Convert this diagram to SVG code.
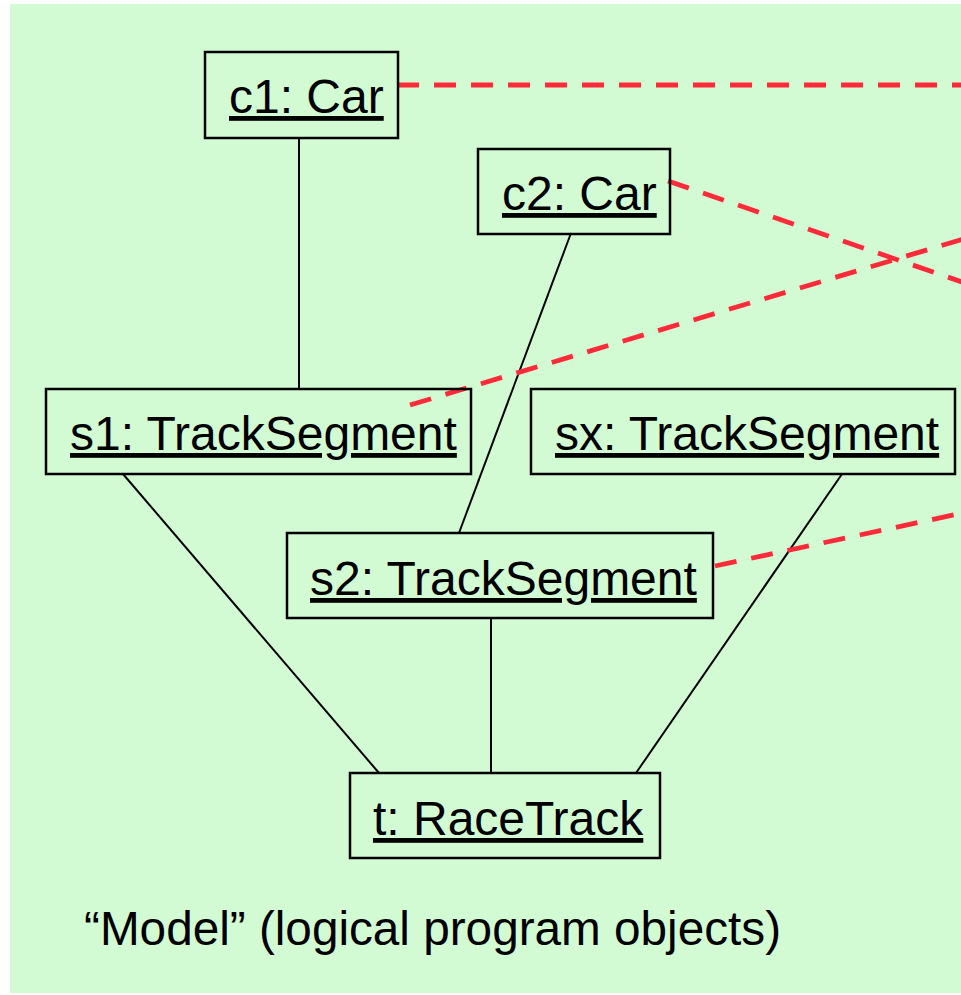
<svg xmlns="http://www.w3.org/2000/svg" width="961" height="995" viewBox="0 0 961 995">
<style>
.box{fill:none;stroke:#000;stroke-width:2.5}
.lbl{font-family:"Liberation Sans",Arial,Helvetica,sans-serif;font-size:48px;fill:#000;text-decoration:underline;text-decoration-thickness:2px}
.cap{font-family:"Liberation Sans",Arial,Helvetica,sans-serif;font-size:47.7px;fill:#000}
.assoc{stroke:#000;stroke-width:2;fill:none}
.map{stroke:#fd2b3a;stroke-width:4.8;stroke-dasharray:22 15;fill:none}
</style>
<rect x="0" y="0" width="961" height="995" fill="#ffffff"/>
<rect x="10" y="4" width="951" height="989" fill="#d3fbd3"/>
<g id="connectors">
<line class="assoc" x1="299" y1="138" x2="299" y2="389"/>
<line class="assoc" x1="571" y1="233" x2="459" y2="533"/>
<line class="assoc" x1="123" y1="474" x2="379" y2="773"/>
<line class="assoc" x1="491" y1="618" x2="491" y2="773"/>
<line class="assoc" x1="842" y1="474" x2="636" y2="773"/>
<line class="map" x1="397" y1="85" x2="1000" y2="85"/>
<line class="map" x1="668" y1="181" x2="1000" y2="295"/>
<line class="map" x1="410" y1="405" x2="1000" y2="228"/>
<line class="map" x1="715" y1="566" x2="1000" y2="505"/>
</g>
<g id="c1">
<rect class="box" x="205" y="52" width="193" height="86"/>
<text class="lbl" x="229" y="113">c1: Car</text>
</g>
<g id="c2">
<rect class="box" x="478" y="149" width="192" height="85"/>
<text class="lbl" x="502" y="210">c2: Car</text>
</g>
<g id="s1">
<rect class="box" x="46" y="389" width="425" height="85"/>
<text class="lbl" x="70" y="450">s1: TrackSegment</text>
</g>
<g id="sx">
<rect class="box" x="531" y="389" width="424" height="85"/>
<text class="lbl" x="555" y="450">sx: TrackSegment</text>
</g>
<g id="s2">
<rect class="box" x="287" y="533" width="426" height="85"/>
<text class="lbl" x="310" y="595">s2: TrackSegment</text>
</g>
<g id="t">
<rect class="box" x="350" y="773" width="310" height="85"/>
<text class="lbl" x="373" y="835">t: RaceTrack</text>
</g>
<text class="cap" x="84" y="945">“Model” (logical program objects)</text>
</svg>
